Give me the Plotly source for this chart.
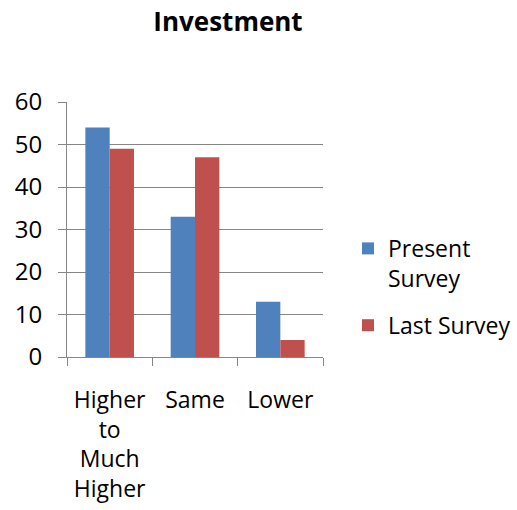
import plotly.graph_objects as go

categories = ["Higher<br>to<br>Much<br>Higher", "Same", "Lower"]
present_survey = [54, 33, 13]
last_survey = [49, 47, 4]
y_ticks = [0, 10, 20, 30, 40, 50, 60]

FONT = "Open Sans"
GRID = "#868686"

fig = go.Figure()
fig.add_trace(go.Bar(name="Present<br>Survey", x=categories, y=present_survey,
                     legendgroup="present",
                     marker=dict(color="#4F81BD", line=dict(width=0))))
fig.add_trace(go.Bar(name="Last Survey", x=categories, y=last_survey,
                     legendgroup="last",
                     marker=dict(color="#C0504D", line=dict(width=0))))

fig.update_layout(
    width=517, height=510,
    margin=dict(l=67, r=194, t=102, b=153, autoexpand=False),
    paper_bgcolor="white", plot_bgcolor="white",
    barmode="group", bargap=0.43, bargroupgap=0,
    font=dict(family=FONT, size=23, color="black"),
    title=dict(text="<b>Investment</b>", x=228/517, xanchor="center",
               y=1 - 22/510, yanchor="middle", yref="container",
               font=dict(family=FONT, size=26, color="black")),
    showlegend=True,
    legend=dict(x=(348 - 67) / 256, xanchor="left", y=0.51, yanchor="top",
                valign="top",
                font=dict(family=FONT, size=23, color="black"),
                tracegroupgap=14, itemwidth=30, bgcolor="rgba(0,0,0,0)"),
    xaxis=dict(showline=True, linecolor=GRID, linewidth=1, mirror=False,
               ticks="outside", ticklen=8, tickcolor=GRID, tickson="boundaries",
               showgrid=False, ticklabelstandoff=22,
               tickfont=dict(family=FONT, size=23)),
    yaxis=dict(range=[0, 60], tickvals=y_ticks, showline=True, linecolor=GRID,
               linewidth=1, ticks="outside", ticklen=8, tickcolor=GRID,
               showgrid=True, gridcolor=GRID, gridwidth=1, zeroline=False,
               ticklabelstandoff=11, tickfont=dict(family=FONT, size=24)),
)

fig.write_html("out.html")
